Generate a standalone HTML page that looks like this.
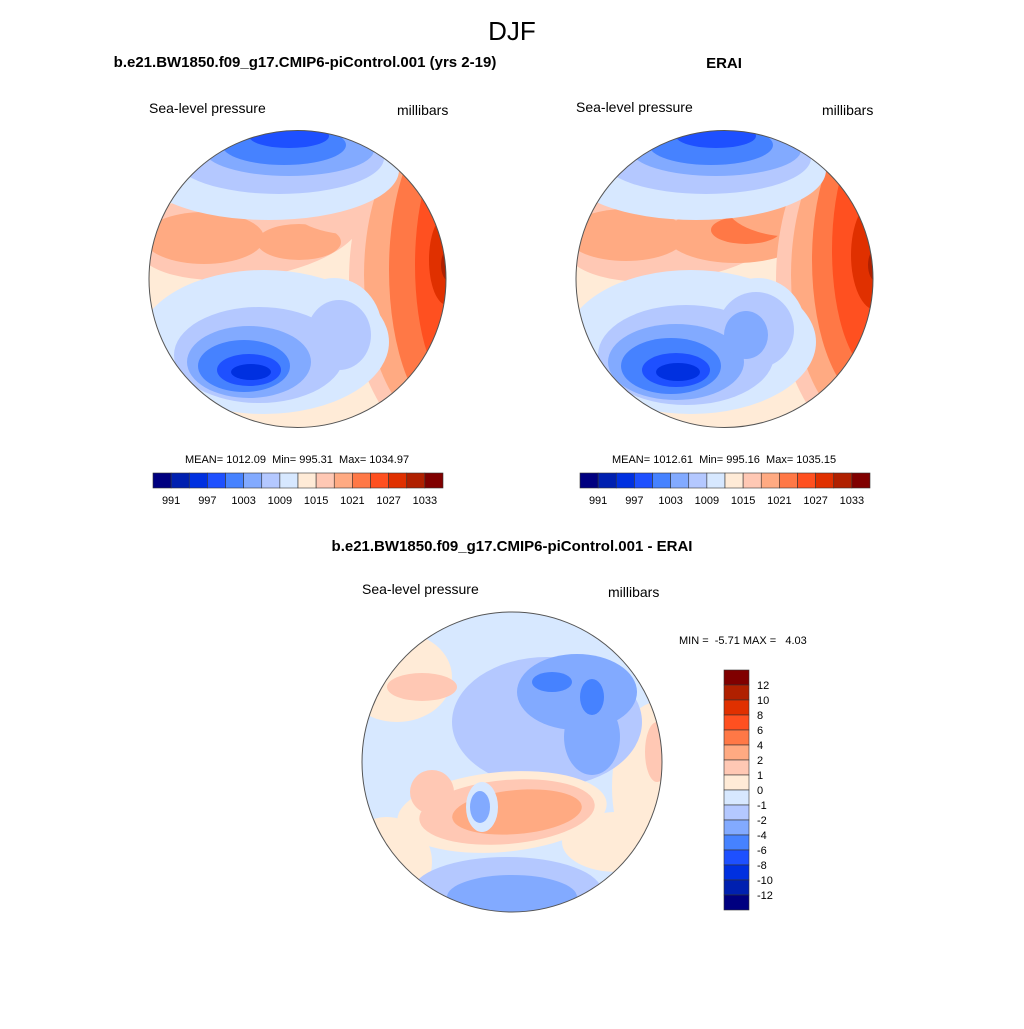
<!DOCTYPE html>
<html><head><meta charset="utf-8"><style>
body{margin:0;background:#fff;}
svg text{font-family:"Liberation Sans",sans-serif;fill:#000;white-space:pre;}
</style></head><body>
<svg id="root" width="1024" height="1024" xmlns="http://www.w3.org/2000/svg">
<defs>
<clipPath id="cl"><circle cx="148.5" cy="149" r="148.5"/></clipPath>
<clipPath id="cb"><circle cx="150" cy="150" r="150"/></clipPath>
</defs>
<text x="512" y="40" font-size="26" text-anchor="middle">DJF</text>
<text x="305" y="67" font-size="15" font-weight="bold" text-anchor="middle">b.e21.BW1850.f09_g17.CMIP6-piControl.001 (yrs 2-19)</text>
<text x="724" y="68" font-size="15" font-weight="bold" text-anchor="middle">ERAI</text>
<text x="149" y="113" font-size="14">Sea-level pressure</text>
<text x="397" y="115" font-size="14">millibars</text>
<text x="576" y="112" font-size="14">Sea-level pressure</text>
<text x="822" y="115" font-size="14">millibars</text>
<text x="512" y="551" font-size="15" font-weight="bold" text-anchor="middle">b.e21.BW1850.f09_g17.CMIP6-piControl.001 - ERAI</text>
<text x="362" y="594" font-size="14">Sea-level pressure</text>
<text x="608" y="597" font-size="14">millibars</text>
<text x="297" y="463" font-size="11" text-anchor="middle">MEAN= 1012.09  Min= 995.31  Max= 1034.97</text>
<text x="724" y="463" font-size="11" text-anchor="middle">MEAN= 1012.61  Min= 995.16  Max= 1035.15</text>
<text x="679" y="644" font-size="11">MIN =  -5.71 MAX =   4.03</text>

<g transform="translate(149,130)">
 <g clip-path="url(#cl)">
  <rect width="300" height="300" fill="#ffebd7"/>
  <ellipse cx="100" cy="100" rx="115" ry="48" transform="rotate(-8 100 100)" fill="#ffc8b4"/>
  <ellipse cx="55" cy="108" rx="60" ry="26" fill="#ffaa82"/>
  <ellipse cx="150" cy="112" rx="42" ry="18" fill="#ffaa82"/>
  <ellipse cx="210" cy="75" rx="70" ry="30" fill="#ffc8b4"/>
  <ellipse cx="305" cy="150" rx="105" ry="175" fill="#ffc8b4"/>
  <ellipse cx="300" cy="145" rx="85" ry="160" fill="#ffaa82"/>
  <ellipse cx="300" cy="140" rx="60" ry="150" fill="#ff7846"/>
  <ellipse cx="308" cy="135" rx="42" ry="125" fill="#ff5020"/>
  <ellipse cx="298" cy="130" rx="18" ry="45" fill="#e03000"/>
  <ellipse cx="300" cy="135" rx="8" ry="16" fill="#b02000"/>
  <ellipse cx="120" cy="40" rx="130" ry="50" fill="#d7e8ff"/>
  <ellipse cx="130" cy="28" rx="105" ry="36" fill="#b4c8ff"/>
  <ellipse cx="140" cy="20" rx="85" ry="26" fill="#82aaff"/>
  <ellipse cx="135" cy="15" rx="62" ry="20" fill="#4682ff"/>
  <ellipse cx="140" cy="6" rx="40" ry="12" fill="#1e50ff"/>
  <ellipse cx="115" cy="212" rx="125" ry="72" fill="#d7e8ff"/>
  <ellipse cx="185" cy="200" rx="48" ry="52" fill="#d7e8ff"/>
  <ellipse cx="110" cy="225" rx="85" ry="48" fill="#b4c8ff"/>
  <ellipse cx="190" cy="205" rx="32" ry="35" fill="#b4c8ff"/>
  <ellipse cx="100" cy="232" rx="62" ry="36" fill="#82aaff"/>
  <ellipse cx="95" cy="236" rx="46" ry="26" fill="#4682ff"/>
  <ellipse cx="100" cy="240" rx="32" ry="16" fill="#1e50ff"/>
  <ellipse cx="102" cy="242" rx="20" ry="8" fill="#0030e0"/>
 </g>
 <circle cx="148.5" cy="149" r="148.5" fill="none" stroke="#555" stroke-width="1"/>
</g>

<g transform="translate(576,130)">
 <g clip-path="url(#cl)">
  <rect width="300" height="300" fill="#ffebd7"/>
  <ellipse cx="100" cy="100" rx="115" ry="50" transform="rotate(-8 100 100)" fill="#ffc8b4"/>
  <ellipse cx="50" cy="105" rx="60" ry="26" fill="#ffaa82"/>
  <ellipse cx="160" cy="105" rx="70" ry="28" fill="#ffaa82"/>
  <ellipse cx="170" cy="100" rx="35" ry="14" fill="#ff7846"/>
  <ellipse cx="220" cy="75" rx="70" ry="32" fill="#ffaa82"/>
  <ellipse cx="305" cy="150" rx="105" ry="175" fill="#ffc8b4"/>
  <ellipse cx="300" cy="145" rx="85" ry="160" fill="#ffaa82"/>
  <ellipse cx="298" cy="130" rx="62" ry="145" fill="#ff7846"/>
  <ellipse cx="302" cy="120" rx="46" ry="125" fill="#ff5020"/>
  <ellipse cx="300" cy="125" rx="25" ry="55" fill="#e03000"/>
  <ellipse cx="300" cy="135" rx="8" ry="16" fill="#b02000"/>
  <ellipse cx="120" cy="40" rx="130" ry="50" fill="#d7e8ff"/>
  <ellipse cx="130" cy="28" rx="105" ry="36" fill="#b4c8ff"/>
  <ellipse cx="140" cy="20" rx="85" ry="26" fill="#82aaff"/>
  <ellipse cx="135" cy="15" rx="62" ry="20" fill="#4682ff"/>
  <ellipse cx="140" cy="6" rx="40" ry="12" fill="#1e50ff"/>
  <ellipse cx="115" cy="212" rx="125" ry="72" fill="#d7e8ff"/>
  <ellipse cx="182" cy="200" rx="48" ry="52" fill="#d7e8ff"/>
  <ellipse cx="110" cy="225" rx="88" ry="50" fill="#b4c8ff"/>
  <ellipse cx="180" cy="200" rx="38" ry="38" fill="#b4c8ff"/>
  <ellipse cx="100" cy="232" rx="68" ry="38" fill="#82aaff"/>
  <ellipse cx="170" cy="205" rx="22" ry="24" fill="#82aaff"/>
  <ellipse cx="95" cy="236" rx="50" ry="28" fill="#4682ff"/>
  <ellipse cx="100" cy="240" rx="34" ry="17" fill="#1e50ff"/>
  <ellipse cx="102" cy="242" rx="22" ry="9" fill="#0030e0"/>
 </g>
 <circle cx="148.5" cy="149" r="148.5" fill="none" stroke="#555" stroke-width="1"/>
</g>

<g transform="translate(362,612)">
 <g clip-path="url(#cb)">
  <rect width="300" height="300" fill="#d7e8ff"/>
  <ellipse cx="35" cy="65" rx="55" ry="45" fill="#ffebd7"/>
  <ellipse cx="60" cy="75" rx="35" ry="14" fill="#ffc8b4"/>
  <ellipse cx="295" cy="175" rx="45" ry="85" fill="#ffebd7"/>
  <ellipse cx="295" cy="140" rx="12" ry="30" fill="#ffc8b4"/>
  <ellipse cx="255" cy="230" rx="55" ry="30" fill="#ffebd7"/>
  <ellipse cx="25" cy="250" rx="45" ry="45" fill="#ffebd7"/>
  <ellipse cx="185" cy="110" rx="95" ry="65" fill="#b4c8ff"/>
  <ellipse cx="215" cy="80" rx="60" ry="38" fill="#82aaff"/>
  <ellipse cx="230" cy="125" rx="28" ry="38" fill="#82aaff"/>
  <ellipse cx="190" cy="70" rx="20" ry="10" fill="#4682ff"/>
  <ellipse cx="230" cy="85" rx="12" ry="18" fill="#4682ff"/>
  <ellipse cx="140" cy="200" rx="105" ry="40" transform="rotate(-5 140 200)" fill="#ffebd7"/>
  <ellipse cx="145" cy="200" rx="88" ry="32" transform="rotate(-5 145 200)" fill="#ffc8b4"/>
  <ellipse cx="155" cy="200" rx="65" ry="22" transform="rotate(-5 155 200)" fill="#ffaa82"/>
  <ellipse cx="70" cy="180" rx="22" ry="22" fill="#ffc8b4"/>
  <ellipse cx="120" cy="195" rx="16" ry="25" fill="#d7e8ff"/>
  <ellipse cx="118" cy="195" rx="10" ry="16" fill="#82aaff"/>
  <ellipse cx="145" cy="280" rx="95" ry="35" fill="#b4c8ff"/>
  <ellipse cx="150" cy="285" rx="65" ry="22" fill="#82aaff"/>
 </g>
 <circle cx="150" cy="150" r="150" fill="none" stroke="#555" stroke-width="1"/>
</g>
<g id="cbars"></g>
</svg>
<script>
const colors=["#000080","#0020b0","#0030e0","#1e50ff","#4682ff","#82aaff","#b4c8ff","#d7e8ff","#ffebd7","#ffc8b4","#ffaa82","#ff7846","#ff5020","#e03000","#b02000","#800000"];
const hLabels=["991","997","1003","1009","1015","1021","1027","1033"];
const vLabels=["12","10","8","6","4","2","1","0","-1","-2","-4","-6","-8","-10","-12"];
const NS="http://www.w3.org/2000/svg";
const g=document.getElementById('cbars');
function mk(t,a){const e=document.createElementNS(NS,t);for(const k in a)e.setAttribute(k,a[k]);g.appendChild(e);return e;}
[153,580].forEach((x0,ci)=>{
  const w=290/colors.length;
  colors.forEach((c,i)=>{
    const r=mk('rect',{x:x0+i*w,y:473,width:w,height:15,fill:c,stroke:'#333','stroke-width':0.6});
    
    
  });
  hLabels.forEach((l,j)=>{
    const t=mk('text',{x:x0+(2*j+1)*w,y:504,'font-size':11,'text-anchor':'middle'});
    t.textContent=l;
    
    
  });
});
const vh=240/colors.length;
colors.slice().reverse().forEach((c,i)=>{
  const r=mk('rect',{x:724,y:670+i*vh,width:25,height:vh,fill:c,stroke:'#333','stroke-width':0.6});
  
  
});
vLabels.forEach((l,j)=>{
  const t=mk('text',{x:757,y:670+(j+1)*vh+4,'font-size':11});
  t.textContent=l;
  
  
});
</script>
</body></html>
